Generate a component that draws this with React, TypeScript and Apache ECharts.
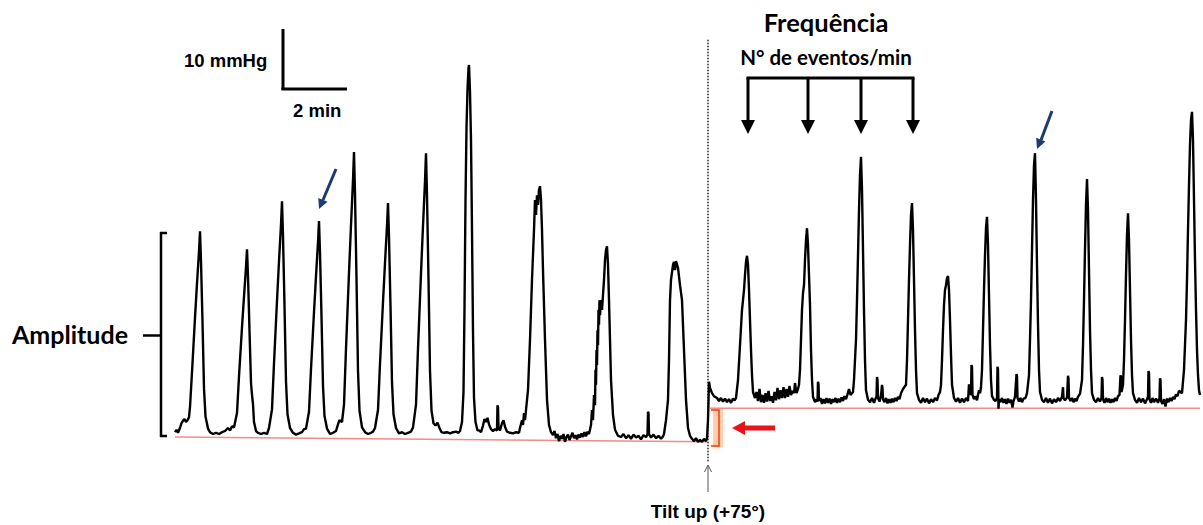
import React, { useEffect, useRef } from "react";
import * as echarts from "echarts";

// Time in seconds (x), pressure in mmHg (y)
const restTrace: [number, number][] = [
  [0, 1.3], [3, 1.7], [6, 1.2], [10, 2.0], [13, 2.8], [16, 3.2], [19, 3.5], [22, 3.0], [25, 3.3], [28, 3.8],
  [30, 5.5], [34, 11.3], [40, 20.4], [44, 26.1], [48, 31.4], [50, 34.8], [52, 29.8], [55, 19.7], [58, 8.6], [61, 3.9], [66, 1.9],
  [70, 1.3], [76, 1.0], [82, 1.2], [88, 1.0], [94, 1.3], [100, 1.5], [106, 2.0], [110, 1.6], [114, 2.3],
  [118, 2.1], [124, 4.5], [128, 10.6], [134, 18.8], [138, 23.9], [142, 28.8], [144, 31.8], [146, 27.3], [149, 18.2], [152, 9.5], [154, 7.5], [156, 6.0], [158, 3.0], [162, 1.5],
  [166, 1.2], [172, 1.0], [178, 1.2], [184, 1.0],
  [188, 2.0], [194, 5.1], [198, 12.8], [204, 23.2], [208, 29.8], [212, 35.9], [214, 39.8], [216, 34.0], [219, 22.4], [222, 9.7], [225, 4.3], [230, 2.0],
  [236, 1.2], [242, 0.9], [248, 1.1], [254, 1.3], [258, 1.8],
  [262, 1.9], [268, 4.7], [272, 11.8], [278, 21.3], [282, 27.3], [286, 33.0], [288, 36.5], [290, 31.2], [293, 20.6], [296, 9.0], [299, 4.0], [304, 1.9],
  [310, 1.0], [316, 1.2], [322, 1.5], [326, 2.6], [329, 3.3],
  [334, 3.0], [338, 5.9], [342, 15.2], [348, 27.9], [352, 35.8], [356, 43.3], [358, 48.0], [360, 41.0], [363, 26.9], [366, 11.5], [369, 4.9], [374, 2.1],
  [380, 1.3], [386, 1.0], [392, 1.2], [396, 1.4],
  [400, 2.0], [406, 5.0], [410, 12.7], [416, 23.0], [420, 29.5], [424, 35.7], [426, 39.5], [428, 33.8], [431, 22.3], [434, 9.6], [437, 4.3], [442, 2.0],
  [448, 1.1], [454, 1.3], [460, 1.0], [466, 1.2], [472, 1.4],
  [476, 2.1], [482, 5.9], [486, 15.2], [492, 27.8], [496, 35.7], [500, 43.1], [502, 47.8], [504, 40.8], [507, 26.8], [510, 11.5], [513, 4.9], [517, 2.8], [521, 2.4], [525, 2.9], [529, 2.0], [533, 1.3],
  [538, 1.2], [544, 1.3], [550, 1.1], [556, 1.3], [562, 1.4], [567, 1.2],
  [570, 1.5], [574, 3.0], [577, 8.0], [579, 22.0], [581, 40.0], [583, 52.0], [585, 58.5], [587, 62.0], [588, 62.5], [590, 58.0], [592, 50.0], [594, 35.0], [596, 18.0], [598, 7.0], [601, 3.0], [605, 1.6],
  [608, 1.6], [612, 1.3], [616, 2.4], [619, 3.5], [622, 3.0], [625, 3.7], [628, 2.6], [632, 1.8], [636, 1.5], [640, 1.8], [644, 1.6], [645, 5.8], [646, 5.5], [647, 2.0], [650, 1.6], [654, 2.8], [657, 3.3], [660, 2.2], [664, 1.4], [670, 1.2], [676, 1.1], [682, 1.3], [688, 1.2],
  [690, 2.0], [694, 3.3], [696, 2.5], [698, 4.5], [700, 3.3], [702, 5.0], [706, 8.3], [710, 16.7], [714, 26.7], [718, 35.0], [720, 40.0], [722, 37.5], [724, 40.8], [726, 39.2], [728, 41.7], [730, 42.3], [732, 40.0], [734, 35.0], [736, 28.3], [740, 16.7], [744, 6.7], [748, 2.5], [752, 1.3],
  [756, 0.8], [759, 1.5], [762, 0.3], [765, 1.0], [768, -0.2], [771, 0.7], [774, 0.2], [777, 1.0], [780, -0.3], [783, 0.5], [786, 0.9], [789, 0.0], [792, 0.6], [795, 1.2], [798, 0.3], [801, 0.8], [804, 0.1], [807, 0.9], [810, 0.4], [813, 1.1], [816, 0.5], [819, 1.3], [822, 0.6], [825, 1.4], [828, 1.0],
  [832, 2.5], [834, 5.0], [836, 3.3], [838, 7.5], [840, 5.8], [841, 11.7], [842, 9.2], [843, 15.0], [844, 12.5], [845, 18.3], [846, 15.8], [847, 21.7], [848, 19.2], [849, 23.3], [850, 20.8], [852, 23.3], [854, 21.7], [856, 24.2], [858, 26.7], [860, 30.0], [862, 31.7], [864, 32.3], [866, 29.2], [868, 23.3], [870, 16.7], [872, 10.0], [876, 4.2], [880, 1.7], [886, 0.7],
  [892, 0.5], [897, 1.0], [902, 0.3], [907, 0.8], [912, 0.2], [917, 0.9], [922, 0.4], [927, 0.7], [932, 0.1], [937, 0.8], [942, 0.5], [945, 0.9], [946, 4.7], [947, 4.5], [948, 1.0], [952, 0.4], [957, 0.9], [962, 0.3], [967, 0.7], [972, 0.2], [976, 0.6],
  [978, 1.0], [982, 3.3], [986, 6.7], [988, 13.3], [990, 23.3], [992, 26.7], [996, 29.2], [998, 29.7], [1000, 28.3], [1002, 29.8], [1006, 28.7], [1010, 25.8], [1014, 23.3], [1018, 15.0], [1022, 6.7], [1026, 2.0], [1030, 0.7],
  [1034, 0.2], [1038, -0.2], [1042, 0.3], [1046, -0.3], [1050, 0.0], [1054, -0.3], [1058, 0.2], [1062, -0.2], [1064, 0.3],
];

const tiltTrace: [number, number][] = [
  [1066, 3.3], [1068, 9.7], [1070, 8.7], [1074, 7.8], [1078, 7.3], [1084, 7.0], [1088, 6.5], [1092, 7.0], [1096, 6.4], [1100, 6.9], [1104, 6.3], [1108, 6.8], [1112, 6.2], [1116, 6.9], [1119, 6.6],
  [1122, 7.0], [1126, 10.0], [1130, 15.8], [1134, 21.7], [1136, 23.3], [1138, 25.0], [1140, 27.5], [1142, 29.7], [1144, 30.7], [1146, 29.2], [1148, 25.0], [1150, 20.0], [1152, 15.0], [1154, 10.8], [1156, 8.0], [1160, 7.0],
  [1163, 8.0], [1166, 6.5], [1169, 8.5], [1172, 6.3], [1175, 7.5], [1178, 6.2], [1181, 7.8], [1184, 6.4], [1187, 8.2], [1190, 6.5], [1193, 7.3], [1196, 6.2], [1199, 8.0], [1202, 6.6], [1205, 8.7], [1208, 6.8], [1211, 8.3], [1214, 7.0], [1217, 8.8], [1220, 7.0], [1223, 8.5], [1226, 7.2], [1229, 9.0], [1232, 7.5], [1235, 8.2], [1238, 7.8], [1240, 9.5], [1243, 7.8], [1246, 8.5],
  [1248, 9.2], [1250, 11.7], [1252, 16.7], [1254, 21.7], [1256, 24.5], [1258, 25.8], [1260, 30.0], [1262, 33.3], [1264, 35.3], [1266, 32.5], [1268, 27.5], [1270, 22.5], [1272, 15.0], [1274, 10.0], [1276, 7.2], [1280, 6.3],
  [1283, 6.8], [1285, 6.4], [1286, 9.7], [1287, 9.3], [1288, 6.5], [1291, 7.0], [1294, 6.0], [1297, 6.8], [1300, 6.1], [1303, 7.0], [1306, 6.2], [1309, 6.9], [1312, 6.0], [1315, 6.8], [1318, 6.3], [1321, 7.0], [1324, 6.2], [1327, 6.9], [1330, 6.3], [1333, 7.1], [1336, 6.5], [1339, 7.3], [1342, 6.8], [1345, 7.6], [1348, 8.5], [1351, 7.5],
  [1356, 8.0], [1358, 10.0], [1362, 16.7], [1364, 23.3], [1366, 30.8], [1368, 38.3], [1370, 44.2], [1372, 47.2], [1374, 41.7], [1376, 31.7], [1378, 21.7], [1380, 13.3], [1382, 8.3], [1386, 6.7],
  [1390, 6.3], [1394, 7.0], [1398, 6.2], [1401, 6.9], [1403, 7.2], [1404, 10.5], [1405, 10.0], [1406, 7.0], [1409, 6.4], [1412, 7.4], [1414, 9.2], [1415, 8.6], [1416, 6.8], [1419, 6.3], [1422, 7.0], [1425, 6.1], [1428, 6.8], [1431, 6.2], [1434, 6.9], [1437, 6.3], [1440, 7.0], [1443, 6.5], [1446, 7.2], [1449, 6.8], [1452, 7.8], [1456, 8.5],
  [1462, 9.2], [1464, 13.3], [1466, 20.0], [1468, 26.7], [1470, 32.5], [1472, 37.5], [1474, 39.5], [1476, 35.0], [1478, 26.7], [1480, 18.3], [1482, 11.7], [1484, 7.8], [1488, 6.7],
  [1492, 6.2], [1496, 7.0], [1500, 6.3], [1504, 6.9], [1508, 6.1], [1512, 6.8], [1516, 6.3], [1520, 7.0], [1524, 6.6], [1527, 7.5], [1530, 8.0],
  [1532, 9.2], [1534, 13.3], [1536, 18.3], [1538, 22.5], [1540, 25.0], [1542, 25.8], [1544, 27.0], [1546, 27.3], [1548, 25.0], [1550, 20.0], [1552, 14.2], [1554, 9.2], [1558, 7.0],
  [1562, 6.4], [1566, 7.0], [1570, 6.2], [1574, 6.9], [1578, 6.3], [1582, 7.0], [1586, 6.5], [1588, 9.3], [1590, 8.0], [1592, 7.5], [1593, 12.5], [1594, 12.2], [1595, 7.5], [1598, 6.8], [1601, 7.3], [1604, 6.6], [1606, 7.5], [1608, 8.3],
  [1610, 7.8], [1612, 8.8], [1614, 11.7], [1616, 18.3], [1618, 25.0], [1620, 30.8], [1622, 35.3], [1624, 37.2], [1626, 32.5], [1628, 24.2], [1630, 15.8], [1632, 10.0], [1634, 7.3], [1638, 6.7],
  [1641, 6.5], [1644, 7.0], [1645, 12.2], [1646, 11.8], [1647, 5.2], [1648, 6.8], [1651, 6.3], [1654, 7.0], [1657, 6.2], [1660, 6.8], [1663, 6.0], [1666, 6.9], [1669, 6.2], [1672, 6.7], [1675, 5.4], [1677, 6.5], [1680, 7.2], [1683, 11.0], [1684, 10.6], [1685, 7.0], [1688, 6.4], [1691, 7.0], [1694, 6.3], [1697, 6.9], [1701, 7.0],
  [1704, 7.8], [1708, 10.8], [1710, 16.7], [1712, 23.3], [1714, 31.7], [1716, 40.0], [1718, 45.8], [1720, 47.8], [1722, 40.0], [1724, 29.2], [1726, 19.2], [1728, 11.7], [1730, 8.0], [1734, 6.7],
  [1738, 6.3], [1742, 7.0], [1746, 6.2], [1750, 6.9], [1754, 6.1], [1758, 6.8], [1762, 6.3], [1766, 7.0], [1770, 6.5], [1774, 7.2], [1776, 8.8], [1777, 7.0], [1780, 6.6], [1784, 7.1], [1786, 10.7], [1787, 10.2], [1788, 7.0], [1791, 6.5], [1794, 7.0], [1797, 6.3], [1800, 6.9], [1803, 6.5], [1806, 7.2],
  [1810, 7.7], [1814, 10.0], [1816, 15.8], [1818, 23.3], [1820, 31.7], [1822, 39.2], [1824, 43.5], [1826, 38.3], [1828, 28.3], [1830, 18.3], [1832, 11.7], [1834, 7.8], [1838, 6.7],
  [1842, 6.3], [1846, 7.0], [1850, 6.4], [1853, 7.0], [1854, 10.5], [1855, 10.0], [1856, 6.8], [1859, 6.2], [1862, 7.0], [1865, 6.3], [1868, 6.9], [1871, 6.2], [1874, 6.8], [1877, 6.3], [1880, 7.0], [1883, 6.5], [1886, 7.3], [1889, 7.5], [1891, 10.8], [1892, 10.5], [1893, 8.0],
  [1896, 9.2], [1898, 13.3], [1900, 20.0], [1902, 27.5], [1904, 34.2], [1906, 37.8], [1908, 33.3], [1910, 25.0], [1912, 16.7], [1914, 10.8], [1916, 7.8], [1920, 6.7],
  [1924, 6.2], [1928, 7.0], [1932, 6.3], [1936, 6.9], [1940, 6.1], [1944, 6.8], [1946, 7.2], [1947, 11.5], [1948, 11.2], [1949, 6.8], [1952, 6.2], [1955, 7.0], [1958, 6.3], [1962, 6.9], [1966, 6.2], [1969, 7.0], [1970, 10.3], [1971, 10.0], [1972, 6.5], [1975, 6.0], [1978, 6.8], [1981, 5.6], [1984, 6.9], [1987, 6.3], [1990, 7.0], [1993, 6.5], [1996, 7.2], [1999, 6.8], [2002, 7.6], [2005, 7.3], [2008, 8.2],
  [2014, 7.8], [2018, 11.7], [2022, 20.0], [2024, 26.7], [2026, 35.0], [2028, 42.5], [2030, 49.2], [2032, 53.3], [2034, 54.7], [2036, 50.0], [2038, 40.0], [2040, 30.0], [2042, 21.7], [2044, 15.0], [2046, 10.8], [2048, 8.3], [2050, 7.5],
];

const restBaseline: [number, number][] = [[0, 0.5], [1064, -0.3]];
const tiltBaseline: [number, number][] = [[1070, 5.3], [2050, 5.3]];
const tiltMarker: [number, number][] = [[1066, 66.7], [1066, -3.7]];

const labels = {
  pressureScale: "10 mmHg",
  timeScale: "2 min",
  frequency: "Frequência",
  events: "N° de eventos/min",
  amplitude: "Amplitude",
  tilt: "Tilt up (+75°)",
};

const BLACK = "#000";
const NAVY = "#1f3a6e";
const RED = "#e8141b";

export default function App() {
  const ref = useRef<HTMLDivElement>(null);
  useEffect(() => {
    if (!ref.current) return;
    const chart = echarts.init(ref.current, undefined, { renderer: "svg" });
    const arial = (s: number) => `bold ${s}px 'Liberation Sans', Arial, sans-serif`;
    const lato = (s: number) => `bold ${s}px Lato, 'Open Sans', sans-serif`;
    const line = (x1: number, y1: number, x2: number, y2: number, color = BLACK, w = 3) => ({
      type: "line",
      shape: { x1, y1, x2, y2 },
      style: { stroke: color, lineWidth: w },
      silent: true,
    });
    const tri = (pts: number[][], color = BLACK) => ({
      type: "polygon",
      shape: { points: pts },
      style: { fill: color },
      silent: true,
    });
    const arrowXs = [748, 808, 861, 913];
    const graphic: any[] = [
      // scale bar
      line(283, 29, 283, 90),
      line(281.5, 89, 347, 89),
      { type: "text", style: { text: labels.pressureScale, x: 184, y: 60, font: arial(18.5), fill: BLACK, textAlign: "left", textVerticalAlign: "middle" } },
      { type: "text", style: { text: labels.timeScale, x: 293, y: 110, font: arial(18.5), fill: BLACK, textAlign: "left", textVerticalAlign: "middle" } },
      // frequency
      { type: "text", style: { text: labels.frequency, x: 826, y: 22, font: lato(25.5), fill: BLACK, textAlign: "center", textVerticalAlign: "middle" } },
      { type: "text", style: { text: labels.events, x: 826, y: 57, font: lato(20.5), fill: BLACK, textAlign: "center", textVerticalAlign: "middle" } },
      line(746.5, 78, 914.5, 78),
      ...arrowXs.map((x) => line(x, 78, x, 122)),
      ...arrowXs.map((x) => tri([[x - 7, 120], [x + 7, 120], [x, 134]])),
      // blue arrows
      line(336, 169, 323, 200, NAVY, 3),
      tri([[319, 209], [327.5, 201.7], [318.3, 197.9]], NAVY),
      line(1052, 111, 1041, 140, NAVY, 3),
      tri([[1037, 149], [1045.4, 141.6], [1036.2, 137.8]], NAVY),
      // amplitude bracket
      { type: "text", style: { text: labels.amplitude, x: 12, y: 334, font: lato(25), fill: BLACK, textAlign: "left", textVerticalAlign: "middle" } },
      line(143, 335.5, 161, 335.5, BLACK, 2.5),
      line(161, 232, 161, 437, BLACK, 2.5),
      line(160, 233, 167, 233, BLACK, 2.5),
      line(160, 436, 167, 436, BLACK, 2.5),
      // orange bracket + red arrow
      { type: "rect", shape: { x: 713, y: 409, width: 10, height: 38 }, style: { fill: "rgba(250,165,110,0.45)" }, silent: true },
      {
        type: "polyline",
        shape: { points: [[711, 410], [719, 410], [719, 446], [711, 446]] },
        style: { stroke: "#e8401c", lineWidth: 1.5, fill: "none", shadowBlur: 6, shadowColor: "rgba(255,140,40,0.9)" },
        silent: true,
      },
      tri([[732, 428], [745, 421], [745, 425.5], [775, 425.5], [775, 430.5], [745, 430.5], [745, 435]], RED),
      // tilt arrow + label
      line(708, 492, 708, 466, "#555", 1),
      { type: "polyline", shape: { points: [[704.5, 472], [708, 465], [711.5, 472]] }, style: { stroke: "#555", lineWidth: 1, fill: "none" }, silent: true },
      { type: "text", style: { text: labels.tilt, x: 708, y: 511, font: arial(19), fill: BLACK, textAlign: "center", textVerticalAlign: "middle" } },
    ];

    chart.setOption({
      animation: false,
      backgroundColor: "#fff",
      grid: { left: 175, right: 3, top: 20, bottom: 55 },
      xAxis: { type: "value", min: 0, max: 2050, show: false },
      yAxis: { type: "value", min: -5, max: 70, show: false },
      series: [
        {
          name: "baseline-rest",
          type: "line",
          data: restBaseline,
          symbol: "none",
          lineStyle: { color: "#f28b8b", width: 1.5 },
          silent: true,
          z: 2,
        },
        {
          name: "baseline-tilt",
          type: "line",
          data: tiltBaseline,
          symbol: "none",
          lineStyle: { color: "#f28b8b", width: 1.5 },
          silent: true,
          z: 2,
        },
        {
          name: "tilt",
          type: "line",
          data: tiltMarker,
          symbol: "none",
          lineStyle: { color: "#222", width: 1.5, type: [1.5, 1.5] },
          silent: true,
          z: 2,
        },
        {
          name: "pressure",
          type: "line",
          data: [...restTrace, ...tiltTrace],
          symbol: "none",
          showSymbol: false,
          lineStyle: { color: BLACK, width: 2.4 },
          silent: true,
          z: 3,
        },
      ],
      graphic,
    });
    return () => chart.dispose();
  }, []);
  return <div ref={ref} style={{ position: "fixed", left: 0, top: 0, width: 1203, height: 525 }} />;
}
